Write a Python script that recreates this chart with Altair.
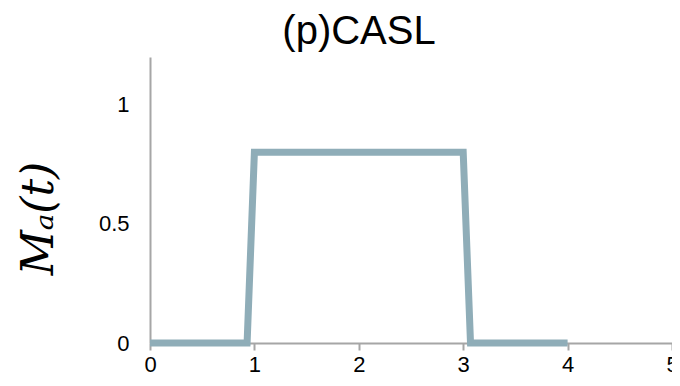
import altair as alt
import pandas as pd

t_vals = [0, 0.93, 1.0, 3.0, 3.07, 4.0]
m_vals = [0, 0, 0.8, 0.8, 0, 0]

df = pd.DataFrame({"t": t_vals, "m": m_vals, "order": list(range(len(t_vals)))})

axis_color = "#A6A6A6"

chart = alt.Chart(df).mark_line(
    color="#8FADB8", strokeWidth=7, strokeJoin="miter", strokeCap="butt"
).encode(
    x=alt.X("t:Q", scale=alt.Scale(domain=[0, 5], nice=False),
            axis=alt.Axis(values=[0, 1, 2, 3, 4, 5], title=None, grid=False,
                          domainColor=axis_color, domainWidth=2,
                          tickColor=axis_color, tickWidth=2, tickSize=7,
                          labelFontSize=22, labelColor="black", labelPadding=4,
                          labelFont="Liberation Sans", labelFlush=False)),
    y=alt.Y("m:Q", scale=alt.Scale(domain=[0, 1.2], nice=False),
            axis=alt.Axis(values=[0, 0.5, 1], labelExpr="'' + datum.value",
                          grid=False, domainColor=axis_color, domainWidth=2,
                          ticks=False, labelFontSize=22, labelColor="black",
                          labelPadding=21, labelFont="Liberation Sans",
                          title="Mₐ(t)", titleFont="DejaVu Serif",
                          titleFontStyle="italic", titleFontWeight="normal",
                          titleFontSize=44, titleAngle=270, titleAlign="center",
                          titleBaseline="alphabetic", titleX=-98, titleY=161,
                          titleColor="black")),
    order="order:Q",
).properties(
    width=522, height=286,
    title=alt.TitleParams("(p)CASL", fontSize=40, font="Liberation Sans",
                          fontWeight="normal", color="black", dx=-52, offset=5),
    autosize=alt.AutoSizeParams(type="none"),
    padding={"left": 142, "top": 49, "right": 0, "bottom": 35},
).configure_view(stroke=None)

chart.save("out.html", embed_options={"renderer": "svg", "actions": False})
